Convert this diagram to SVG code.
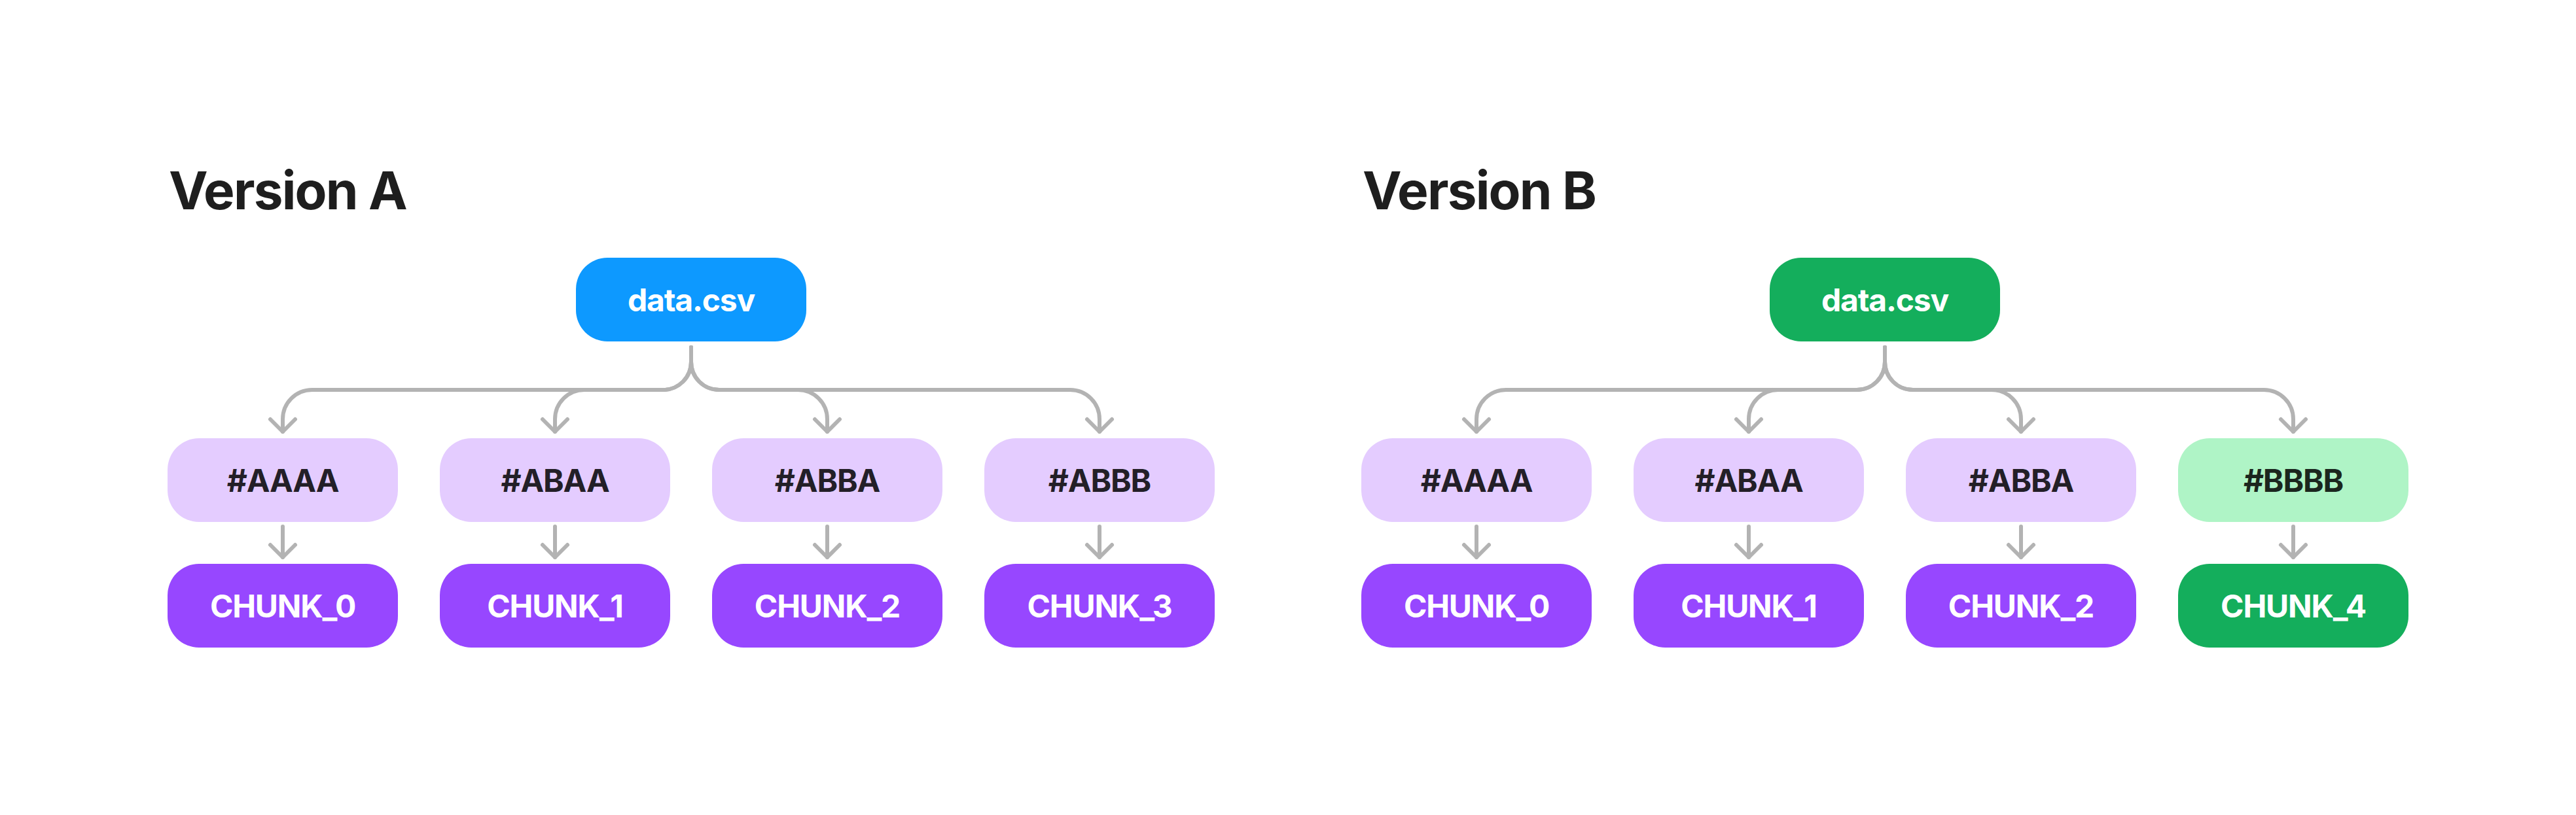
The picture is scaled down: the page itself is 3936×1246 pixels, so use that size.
<svg xmlns="http://www.w3.org/2000/svg" width="3936" height="1246" viewBox="0 0 3936 1246">
  <style>
    text { font-family: Inter, "Liberation Sans", sans-serif; font-weight: 700; text-anchor: middle; }
    .title { font-size: 80px; fill: #1E1E1E; text-anchor: start; letter-spacing: -1.8px; }
    .lbl { font-size: 48px; letter-spacing: -1.2px; }
    .light { fill: #000000; fill-opacity: 0.85; }
    .white { fill: #FFFFFF; }
    .conn path { fill: none; stroke: #B3B3B3; stroke-width: 6; stroke-linecap: round; stroke-linejoin: round; }
  </style>
  <defs>
    <marker id="arrow" viewBox="-26 -26 52 52" refX="0" refY="0" markerWidth="52" markerHeight="52" markerUnits="userSpaceOnUse" orient="auto" overflow="visible">
      <path d="M -19 -19 L 0 0 L -19 19" fill="none" stroke="#B3B3B3" stroke-width="6" stroke-linecap="round" stroke-linejoin="round"/>
    </marker>
  </defs>
  <rect width="3936" height="1246" fill="#FFFFFF"/>

  <!-- Version A -->
  <g id="title-a"><text class="title" x="258" y="320">Version A</text></g>
  <g id="a-data">
    <rect x="880" y="394" width="352" height="128" rx="48" fill="#0D99FF"/>
    <text class="lbl white" x="1056" y="476">data.csv</text>
  </g>
  <g id="a-h0"><rect x="256" y="670" width="352" height="128" rx="48" fill="#E4CCFF"/><text class="lbl light" x="432" y="752">#AAAA</text></g>
  <g id="a-h1"><rect x="672" y="670" width="352" height="128" rx="48" fill="#E4CCFF"/><text class="lbl light" x="848" y="752">#ABAA</text></g>
  <g id="a-h2"><rect x="1088" y="670" width="352" height="128" rx="48" fill="#E4CCFF"/><text class="lbl light" x="1264" y="752">#ABBA</text></g>
  <g id="a-h3"><rect x="1504" y="670" width="352" height="128" rx="48" fill="#E4CCFF"/><text class="lbl light" x="1680" y="752">#ABBB</text></g>
  <g id="a-c0"><rect x="256" y="862" width="352" height="128" rx="48" fill="#9747FF"/><text class="lbl white" x="432" y="944">CHUNK_0</text></g>
  <g id="a-c1"><rect x="672" y="862" width="352" height="128" rx="48" fill="#9747FF"/><text class="lbl white" x="848" y="944">CHUNK_1</text></g>
  <g id="a-c2"><rect x="1088" y="862" width="352" height="128" rx="48" fill="#9747FF"/><text class="lbl white" x="1264" y="944">CHUNK_2</text></g>
  <g id="a-c3"><rect x="1504" y="862" width="352" height="128" rx="48" fill="#9747FF"/><text class="lbl white" x="1680" y="944">CHUNK_3</text></g>

  <!-- Version B -->
  <g id="title-b"><text class="title" x="2082" y="320">Version B</text></g>
  <g id="b-data">
    <rect x="2704" y="394" width="352" height="128" rx="48" fill="#14AE5C"/>
    <text class="lbl white" x="2880" y="476">data.csv</text>
  </g>
  <g id="b-h0"><rect x="2080" y="670" width="352" height="128" rx="48" fill="#E4CCFF"/><text class="lbl light" x="2256" y="752">#AAAA</text></g>
  <g id="b-h1"><rect x="2496" y="670" width="352" height="128" rx="48" fill="#E4CCFF"/><text class="lbl light" x="2672" y="752">#ABAA</text></g>
  <g id="b-h2"><rect x="2912" y="670" width="352" height="128" rx="48" fill="#E4CCFF"/><text class="lbl light" x="3088" y="752">#ABBA</text></g>
  <g id="b-h3"><rect x="3328" y="670" width="352" height="128" rx="48" fill="#AFF4C6"/><text class="lbl light" x="3504" y="752">#BBBB</text></g>
  <g id="b-c0"><rect x="2080" y="862" width="352" height="128" rx="48" fill="#9747FF"/><text class="lbl white" x="2256" y="944">CHUNK_0</text></g>
  <g id="b-c1"><rect x="2496" y="862" width="352" height="128" rx="48" fill="#9747FF"/><text class="lbl white" x="2672" y="944">CHUNK_1</text></g>
  <g id="b-c2"><rect x="2912" y="862" width="352" height="128" rx="48" fill="#9747FF"/><text class="lbl white" x="3088" y="944">CHUNK_2</text></g>
  <g id="b-c3"><rect x="3328" y="862" width="352" height="128" rx="48" fill="#14AE5C"/><text class="lbl white" x="3504" y="944">CHUNK_4</text></g>

  <g id="connectors" class="conn">
    <!-- Version A tree -->
    <path marker-end="url(#arrow)" d="M1056 531 V553 C1056 577 1037 596 1013 596 H477 C452 596 432 616 432 641 V660"/>
    <path marker-end="url(#arrow)" d="M1056 531 V553 C1056 577 1037 596 1013 596 H893 C868 596 848 616 848 641 V660"/>
    <path marker-end="url(#arrow)" d="M1056 531 V553 C1056 577 1075 596 1099 596 H1219 C1244 596 1264 616 1264 641 V660"/>
    <path marker-end="url(#arrow)" d="M1056 531 V553 C1056 577 1075 596 1099 596 H1635 C1660 596 1680 616 1680 641 V660"/>
    <path marker-end="url(#arrow)" d="M432 805 V852"/>
    <path marker-end="url(#arrow)" d="M848 805 V852"/>
    <path marker-end="url(#arrow)" d="M1264 805 V852"/>
    <path marker-end="url(#arrow)" d="M1680 805 V852"/>
    <!-- Version B tree -->
    <path marker-end="url(#arrow)" d="M2880 531 V553 C2880 577 2861 596 2837 596 H2301 C2276 596 2256 616 2256 641 V660"/>
    <path marker-end="url(#arrow)" d="M2880 531 V553 C2880 577 2861 596 2837 596 H2717 C2692 596 2672 616 2672 641 V660"/>
    <path marker-end="url(#arrow)" d="M2880 531 V553 C2880 577 2899 596 2923 596 H3043 C3068 596 3088 616 3088 641 V660"/>
    <path marker-end="url(#arrow)" d="M2880 531 V553 C2880 577 2899 596 2923 596 H3459 C3484 596 3504 616 3504 641 V660"/>
    <path marker-end="url(#arrow)" d="M2256 805 V852"/>
    <path marker-end="url(#arrow)" d="M2672 805 V852"/>
    <path marker-end="url(#arrow)" d="M3088 805 V852"/>
    <path marker-end="url(#arrow)" d="M3504 805 V852"/>
  </g>
</svg>
